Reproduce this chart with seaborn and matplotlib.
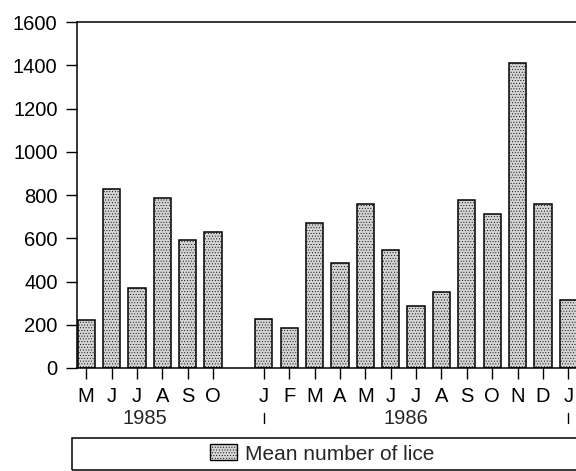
import matplotlib
matplotlib.use("Agg")
import matplotlib.pyplot as plt
import matplotlib.transforms as mtransforms
from matplotlib.patches import Rectangle, Patch
import pandas as pd
import seaborn as sns

# monthly means, May 1985 - Jan 1987 (Nov/Dec 1985 not sampled)
month_keys = ["1985-05", "1985-06", "1985-07", "1985-08", "1985-09", "1985-10",
              "1986-01", "1986-02", "1986-03", "1986-04", "1986-05", "1986-06",
              "1986-07", "1986-08", "1986-09", "1986-10", "1986-11", "1986-12",
              "1987-01"]
month_letters = ["M", "J", "J", "A", "S", "O",
                 "J", "F", "M", "A", "M", "J", "J", "A", "S", "O", "N", "D",
                 "J"]
lice = [220, 830, 370, 785, 590, 630,
        228, 185, 670, 488, 758, 545, 288, 353, 777, 714, 1410, 760,
        315]
years = ["1985", "1986"]

df = pd.DataFrame({"month": month_keys, "lice": lice})
order = month_keys[:6] + ["gap"] + month_keys[6:]

sns.set_style("white")
plt.rcParams["font.family"] = ["Liberation Sans", "DejaVu Sans"]
plt.rcParams["hatch.linewidth"] = 0.35

fig = plt.figure(figsize=(5.76, 4.71), dpi=100)
ax = fig.add_axes([0.1337, 0.2187, 0.8663, 0.7343])

sns.barplot(data=df, x="month", y="lice", order=order, ax=ax,
            color="#d4d4d4", edgecolor="black", linewidth=1.1,
            width=0.68, hatch="......")

ax.set_ylim(0, 1600)
ax.set_xlim(-0.36, 19.3)
ax.set_yticks(range(0, 1601, 200))
ax.tick_params(axis="y", labelsize=14.5, length=8, width=1, direction="out",
               left=True, pad=6, colors="black")

pos = [order.index(k) for k in month_keys]
ax.set_xticks(pos)
ax.set_xticklabels(month_letters)
ax.tick_params(axis="x", labelsize=14.5, length=8, width=1, direction="out",
               bottom=True, pad=6, colors="black")
ax.set_xlabel("")
ax.set_ylabel("")

for side in ["left", "top", "bottom"]:
    ax.spines[side].set_visible(True)
    ax.spines[side].set_color("black")
    ax.spines[side].set_linewidth(1.1)
ax.spines["right"].set_visible(False)

# year labels under month letters
trans = mtransforms.blended_transform_factory(ax.transData, ax.transAxes)
ax.text(2.3, -0.118, years[0], transform=trans, ha="center", va="top",
        fontsize=14.5)
ax.text(12.6, -0.118, years[1], transform=trans, ha="center", va="top",
        fontsize=14.5)
for k in ["1986-01", "1987-01"]:
    x = order.index(k)
    ax.plot([x, x], [-0.13, -0.16], transform=trans, color="black",
            lw=1, clip_on=False)

# legend box across the bottom
fig.add_artist(Rectangle((72 / 576, 1 - 470 / 471), 0.9, 32 / 471,
                         transform=fig.transFigure, fill=False,
                         edgecolor="black", linewidth=1.1))
handle = Patch(facecolor="#d4d4d4", edgecolor="black", hatch="......",
               linewidth=1)
fig.legend([handle], ["Mean number of lice"], loc="center",
           bbox_to_anchor=(322 / 576, 1 - 454 / 471), frameon=False,
           fontsize=15, handlelength=1.3, handleheight=0.8,
           handletextpad=0.4, borderpad=0.1)

fig.savefig("out.png", dpi=100)
